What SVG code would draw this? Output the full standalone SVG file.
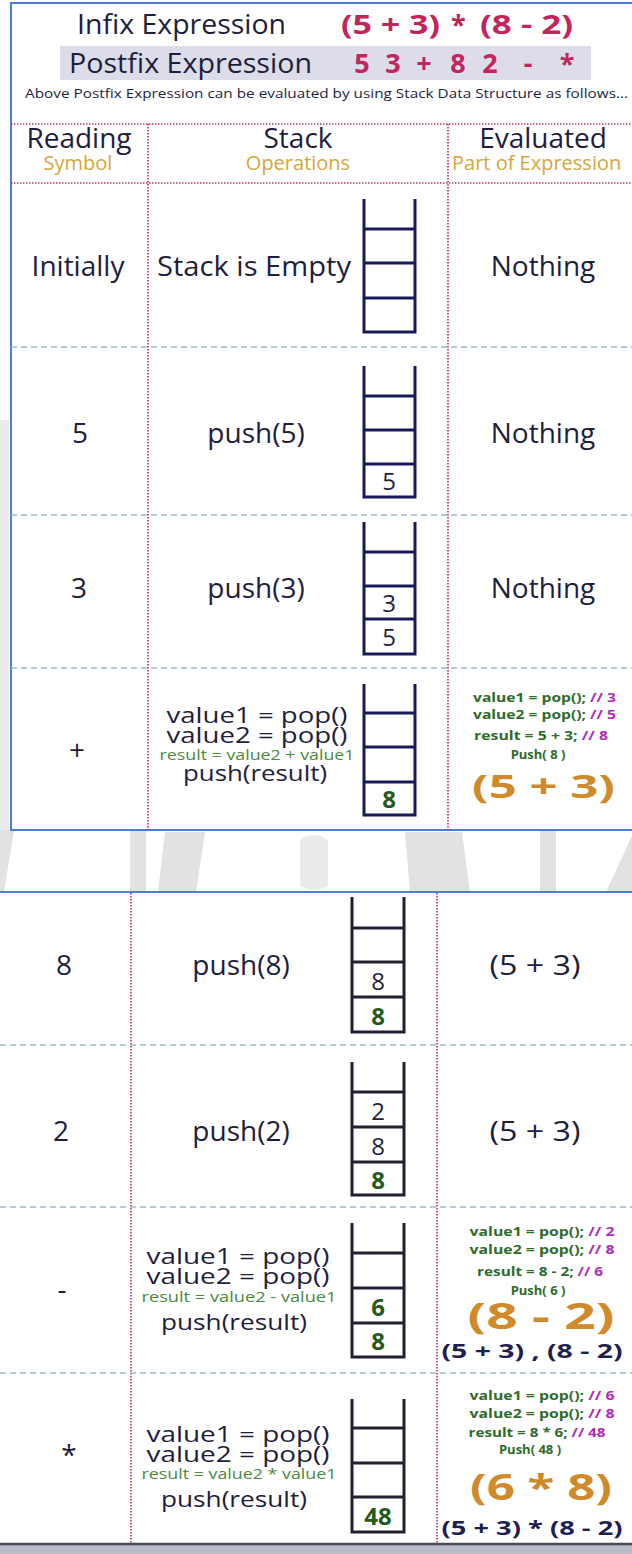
<svg xmlns="http://www.w3.org/2000/svg" width="632" height="1554" viewBox="0 0 632 1554">
  <style>
    text { font-family: "Open Sans", "Noto Sans", "DejaVu Sans", sans-serif; fill: #1e1e3c; }
    .big { font-size: 28px; }
    .mid { font-size: 22px; }
    .gold { font-size: 20px; fill: #d4a73c; }
    .red { font-weight: bold; fill: #c2245c; font-size: 27px; }
    .grn { font-size: 15px; fill: #4a8a3c; }
    .code { font-size: 13px; font-weight: bold; fill: #2f6b2a; }
    .cm { fill: #b02cb8; }
    .orange { font-weight: bold; fill: #d08a2a; }
    .sum { font-weight: bold; font-size: 19px; fill: #1e1e50; }
    .cell { font-size: 24px; }
    .cellg { font-size: 24px; font-weight: bold; fill: #245a1c; }
    .stack { fill: none; stroke: #1a1a5a; stroke-width: 3; }
    .stack2 { fill: none; stroke: #202030; stroke-width: 3; }
    .vdot { stroke: #b0305e; stroke-width: 1.6; stroke-dasharray: 1.4 1.6; }
    .hdot { stroke: #b0305e; stroke-width: 1.6; stroke-dasharray: 1.4 1.6; }
    .dash { stroke: #9cb9c6; stroke-width: 1.5; stroke-dasharray: 6 4; }
    .frame { fill: none; stroke: #4a7fd4; stroke-width: 2; }
    .wm { fill: #e2e2e2; }
  </style>

  <rect width="632" height="1554" fill="#ffffff"/>

  <!-- faint background emblem between the two panels -->
  <g id="watermark">
    <polygon class="wm" points="0,830 14,830 4,892 0,892"/>
    <polygon class="wm" points="0,420 9,420 9,830 0,830" opacity="0.7"/>
    <rect class="wm" x="130" y="830" width="16" height="62"/>
    <polygon class="wm" points="165,832 205,832 196,892 158,892"/>
    <path class="wm" d="M300,840 q15,-10 28,0 v46 q-14,8 -28,0 z" opacity="0.7"/>
    <polygon class="wm" points="405,832 462,832 470,892 410,892"/>
    <rect class="wm" x="540" y="830" width="16" height="62"/>
    <polygon class="wm" points="606,892 632,836 632,892"/>
  </g>

  <!-- title block -->
  <g id="title">
    <text x="77" y="34" class="big" textLength="209" lengthAdjust="spacingAndGlyphs">Infix Expression</text>
    <text y="34" class="red">
      <tspan x="341" textLength="99" lengthAdjust="spacingAndGlyphs">(5 + 3)</tspan>
      <tspan x="451">*</tspan>
      <tspan x="480" textLength="93" lengthAdjust="spacingAndGlyphs">(8 - 2)</tspan>
    </text>
    <rect x="60" y="46" width="531" height="34" fill="#dcdde9"/>
    <text x="69" y="73" class="big" font-size="29" textLength="243" lengthAdjust="spacingAndGlyphs">Postfix Expression</text>
    <text y="73" class="red" font-size="28" text-anchor="middle">
      <tspan x="362">5</tspan><tspan x="393">3</tspan><tspan x="424">+</tspan><tspan x="458">8</tspan><tspan x="490">2</tspan><tspan x="528">-</tspan><tspan x="567">*</tspan>
    </text>
    <text x="25" y="98" font-size="13" textLength="603" lengthAdjust="spacingAndGlyphs">Above Postfix Expression can be evaluated by using Stack Data Structure as follows...</text>
  </g>

  <!-- panel frames -->
  <g id="frames">
    <path class="frame" d="M632,3 H11 V830 H632"/>
    <line class="frame" x1="0" y1="892" x2="632" y2="892"/>
    <rect x="0" y="1543" width="632" height="11" fill="#b9bdca"/>
    <line x1="0" y1="1544" x2="632" y2="1544" stroke="#4a4a50" stroke-width="2.5"/>
  </g>

  <!-- table rules -->
  <g id="connectors">
    <line class="hdot" x1="11" y1="124" x2="632" y2="124"/>
    <line class="hdot" x1="11" y1="183" x2="632" y2="183"/>
    <line class="vdot" x1="148" y1="124" x2="148" y2="830"/>
    <line class="vdot" x1="448" y1="124" x2="448" y2="830"/>
    <line class="dash" x1="11" y1="347" x2="632" y2="347"/>
    <line class="dash" x1="11" y1="515" x2="632" y2="515"/>
    <line class="dash" x1="11" y1="668" x2="632" y2="668"/>
    <line class="vdot" x1="131" y1="893" x2="131" y2="1543"/>
    <line class="vdot" x1="437" y1="893" x2="437" y2="1543"/>
    <line class="dash" x1="0" y1="1045" x2="632" y2="1045"/>
    <line class="dash" x1="0" y1="1207" x2="632" y2="1207"/>
    <line class="dash" x1="0" y1="1373" x2="632" y2="1373"/>
  </g>

  <!-- header row -->
  <g id="header">
    <text x="79" y="148" class="big" text-anchor="middle">Reading</text>
    <text x="78" y="170" class="gold" text-anchor="middle">Symbol</text>
    <text x="298" y="148" class="big" text-anchor="middle">Stack</text>
    <text x="298" y="170" class="gold" text-anchor="middle">Operations</text>
    <text x="543" y="148" class="big" text-anchor="middle">Evaluated</text>
    <text x="452" y="170" class="gold">Part of Expression</text>
  </g>

  <!-- row: Initially -->
  <g id="row-initial">
    <text x="78" y="276" class="big" text-anchor="middle">Initially</text>
    <text x="157" y="276" class="big" textLength="194" lengthAdjust="spacingAndGlyphs">Stack is Empty</text>
    <path class="stack" d="M364,199 V332 H415 V199 M364,229 H415 M364,263 H415 M364,298 H415"/>
    <text x="543" y="276" class="big" text-anchor="middle">Nothing</text>
  </g>

  <!-- row: 5 -->
  <g id="row-5">
    <text x="80" y="443" class="big" text-anchor="middle">5</text>
    <text x="256" y="443" class="big" text-anchor="middle">push(5)</text>
    <path class="stack" d="M364,366 V497 H415 V366 M364,396 H415 M364,430 H415 M364,464 H415"/>
    <text x="389" y="490" class="cell" text-anchor="middle">5</text>
    <text x="543" y="443" class="big" text-anchor="middle">Nothing</text>
  </g>

  <!-- row: 3 -->
  <g id="row-3">
    <text x="79" y="598" class="big" text-anchor="middle">3</text>
    <text x="256" y="598" class="big" text-anchor="middle">push(3)</text>
    <path class="stack" d="M364,522 V654 H415 V522 M364,552 H415 M364,586 H415 M364,619 H415"/>
    <text x="389" y="612" class="cell" text-anchor="middle">3</text>
    <text x="389" y="646" class="cell" text-anchor="middle">5</text>
    <text x="543" y="598" class="big" text-anchor="middle">Nothing</text>
  </g>

  <!-- row: + -->
  <g id="row-plus">
    <text x="77" y="760" class="big" text-anchor="middle">+</text>
    <text x="257" y="723" class="mid" text-anchor="middle" textLength="181" lengthAdjust="spacingAndGlyphs">value1 = pop()</text>
    <text x="257" y="743" class="mid" text-anchor="middle" textLength="181" lengthAdjust="spacingAndGlyphs">value2 = pop()</text>
    <text x="257" y="760" class="grn" text-anchor="middle" textLength="195" lengthAdjust="spacingAndGlyphs">result = value2 + value1</text>
    <text x="255" y="781" class="mid" text-anchor="middle" textLength="144" lengthAdjust="spacingAndGlyphs">push(result)</text>
    <path class="stack" d="M364,684 V815 H415 V684 M364,713 H415 M364,747 H415 M364,782 H415"/>
    <text x="389" y="808" class="cellg" text-anchor="middle">8</text>
    <text x="473" y="702" class="code" textLength="143" lengthAdjust="spacingAndGlyphs">value1 = pop(); <tspan class="cm">// 3</tspan></text>
    <text x="473" y="719" class="code" textLength="143" lengthAdjust="spacingAndGlyphs">value2 = pop(); <tspan class="cm">// 5</tspan></text>
    <text x="474" y="740" class="code" textLength="134" lengthAdjust="spacingAndGlyphs">result = 5 + 3; <tspan class="cm">// 8</tspan></text>
    <text x="538" y="759" class="code" text-anchor="middle">Push( 8 )</text>
    <text x="472" y="798" class="orange" font-size="33" textLength="143" lengthAdjust="spacingAndGlyphs">(5 + 3)</text>
  </g>

  <!-- row: 8 -->
  <g id="row-8">
    <text x="64" y="975" class="big" text-anchor="middle">8</text>
    <text x="241" y="975" class="big" text-anchor="middle">push(8)</text>
    <path class="stack2" d="M352,897 V1032 H404 V897 M352,928 H404 M352,962 H404 M352,997 H404"/>
    <text x="378" y="990" class="cell" text-anchor="middle">8</text>
    <text x="378" y="1025" class="cellg" text-anchor="middle">8</text>
    <text x="535" y="975" class="big" text-anchor="middle" textLength="91" lengthAdjust="spacingAndGlyphs">(5 + 3)</text>
  </g>

  <!-- row: 2 -->
  <g id="row-2">
    <text x="61" y="1141" class="big" text-anchor="middle">2</text>
    <text x="241" y="1141" class="big" text-anchor="middle">push(2)</text>
    <path class="stack2" d="M352,1062 V1195 H404 V1062 M352,1092 H404 M352,1127 H404 M352,1162 H404"/>
    <text x="378" y="1120" class="cell" text-anchor="middle">2</text>
    <text x="378" y="1155" class="cell" text-anchor="middle">8</text>
    <text x="378" y="1189" class="cellg" text-anchor="middle">8</text>
    <text x="535" y="1141" class="big" text-anchor="middle" textLength="91" lengthAdjust="spacingAndGlyphs">(5 + 3)</text>
  </g>

  <!-- row: - -->
  <g id="row-minus">
    <text x="62" y="1299" class="big" text-anchor="middle">-</text>
    <text x="238" y="1264" class="mid" text-anchor="middle" textLength="183" lengthAdjust="spacingAndGlyphs">value1 = pop()</text>
    <text x="238" y="1284" class="mid" text-anchor="middle" textLength="183" lengthAdjust="spacingAndGlyphs">value2 = pop()</text>
    <text x="239" y="1302" class="grn" text-anchor="middle" textLength="195" lengthAdjust="spacingAndGlyphs">result = value2 - value1</text>
    <text x="234" y="1330" class="mid" text-anchor="middle" textLength="146" lengthAdjust="spacingAndGlyphs">push(result)</text>
    <path class="stack2" d="M352,1223 V1357 H404 V1223 M352,1253 H404 M352,1288 H404 M352,1323 H404"/>
    <text x="378" y="1316" class="cellg" text-anchor="middle">6</text>
    <text x="378" y="1350" class="cellg" text-anchor="middle">8</text>
    <text x="542" y="1236" class="code" text-anchor="middle" textLength="145" lengthAdjust="spacingAndGlyphs">value1 = pop(); <tspan class="cm">// 2</tspan></text>
    <text x="542" y="1254" class="code" text-anchor="middle" textLength="145" lengthAdjust="spacingAndGlyphs">value2 = pop(); <tspan class="cm">// 8</tspan></text>
    <text x="540" y="1276" class="code" text-anchor="middle" textLength="126" lengthAdjust="spacingAndGlyphs">result = 8 - 2; <tspan class="cm">// 6</tspan></text>
    <text x="538" y="1295" class="code" text-anchor="middle">Push( 6 )</text>
    <text x="541" y="1329" class="orange" font-size="36" text-anchor="middle" textLength="147" lengthAdjust="spacingAndGlyphs">(8 - 2)</text>
    <text x="532" y="1358" class="sum" text-anchor="middle" textLength="181" lengthAdjust="spacingAndGlyphs">(5 + 3) , (8 - 2)</text>
  </g>

  <!-- row: * -->
  <g id="row-times">
    <text x="69" y="1465" class="big" text-anchor="middle">*</text>
    <text x="238" y="1442" class="mid" text-anchor="middle" textLength="183" lengthAdjust="spacingAndGlyphs">value1 = pop()</text>
    <text x="238" y="1462" class="mid" text-anchor="middle" textLength="183" lengthAdjust="spacingAndGlyphs">value2 = pop()</text>
    <text x="239" y="1479" class="grn" text-anchor="middle" textLength="195" lengthAdjust="spacingAndGlyphs">result = value2 * value1</text>
    <text x="234" y="1507" class="mid" text-anchor="middle" textLength="146" lengthAdjust="spacingAndGlyphs">push(result)</text>
    <path class="stack2" d="M352,1399 V1532 H404 V1399 M352,1428 H404 M352,1463 H404 M352,1497 H404"/>
    <text x="378" y="1525" class="cellg" text-anchor="middle">48</text>
    <text x="542" y="1400" class="code" text-anchor="middle" textLength="145" lengthAdjust="spacingAndGlyphs">value1 = pop(); <tspan class="cm">// 6</tspan></text>
    <text x="542" y="1418" class="code" text-anchor="middle" textLength="145" lengthAdjust="spacingAndGlyphs">value2 = pop(); <tspan class="cm">// 8</tspan></text>
    <text x="537" y="1437" class="code" text-anchor="middle" textLength="137" lengthAdjust="spacingAndGlyphs">result = 8 * 6; <tspan class="cm">// 48</tspan></text>
    <text x="530" y="1454" class="code" text-anchor="middle">Push( 48 )</text>
    <text x="541" y="1500" class="orange" font-size="36" text-anchor="middle" textLength="142" lengthAdjust="spacingAndGlyphs">(6 * 8)</text>
    <text x="532" y="1535" class="sum" text-anchor="middle" textLength="181" lengthAdjust="spacingAndGlyphs">(5 + 3) * (8 - 2)</text>
  </g>
</svg>
